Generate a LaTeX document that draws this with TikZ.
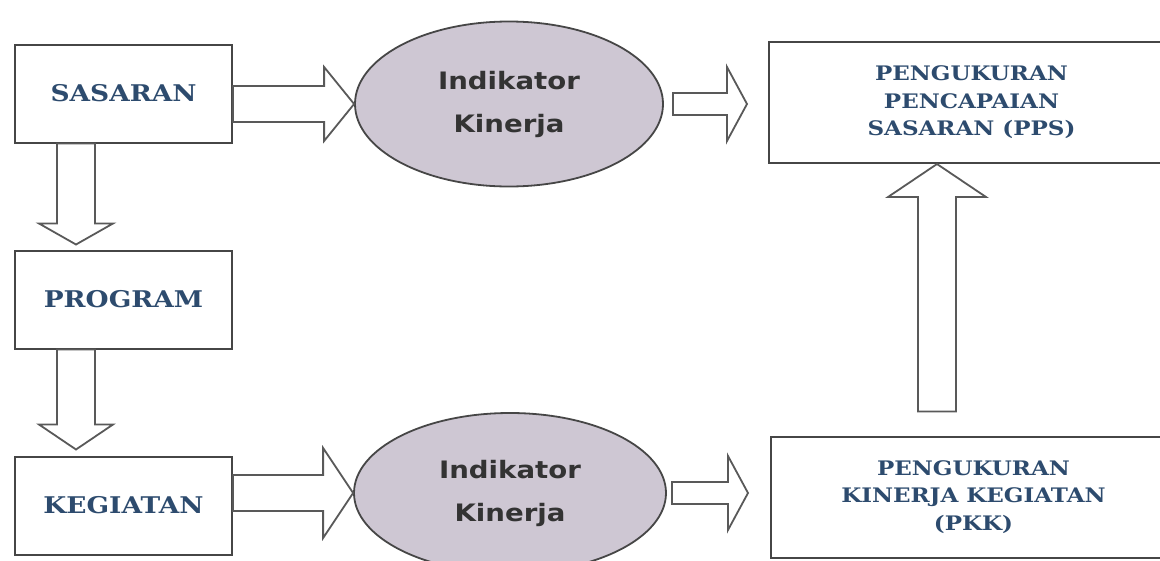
\documentclass[tikz,border=0pt]{standalone}
\usepackage{fontspec}
\usepackage{xcolor}
\usepackage{tikz}
\usetikzlibrary{calc,positioning,shapes.geometric}

\newfontfamily\boxfont[FakeStretch=1.15]{DejaVu Serif}
\newfontfamily\ovalfont[FakeStretch=1.15]{DejaVu Sans}
\definecolor{labelblue}{RGB}{45,75,110}
\definecolor{ovalfill}{RGB}{206,199,211}
\definecolor{edge}{RGB}{70,70,70}

\begin{document}
\begin{tikzpicture}[
  x=1pt, y=-1pt,
  box/.style={draw=edge, line width=2pt, align=center, inner sep=2pt, text=labelblue},
  big/.style={box, minimum width=217pt, minimum height=98pt,
    font=\boxfont\bfseries\fontsize{23}{28}\selectfont},
  wide/.style={box, minimum width=405pt, minimum height=121pt,
    font=\boxfont\bfseries\fontsize{20}{27.5}\selectfont},
  oval/.style={draw=edge, ellipse, fill=ovalfill, line width=1.8pt, inner sep=0pt,
    align=center, text=black!80, font=\ovalfont\bfseries\fontsize{24}{43}\selectfont},
  % hollow block arrow: shaft half width, head half width, head length
  fat/.style n args={3}{draw=edge!90, fill=white, line width=1.8pt, line join=miter,
    to path={($(\tikztotarget)!#3!(\tikztostart)$) coordinate (fb)
      ($(\tikztostart)!#1!90:(\tikztotarget)$) -- ($(fb)!#1!-90:(\tikztostart)$)
      -- ($(fb)!#2!-90:(\tikztostart)$) -- (\tikztotarget)
      -- ($(fb)!#2!90:(\tikztostart)$) -- ($(fb)!#1!90:(\tikztostart)$)
      -- ($(\tikztostart)!#1!-90:(\tikztotarget)$) -- cycle}}]
\useasboundingbox (0,0) rectangle (1160,560);

\node[big] (sas) at (123.5,93.5) {SASARAN};
\node[big, below=106pt of sas] (prog) {PROGRAM};
\node[big, below=106pt of prog] (keg) {KEGIATAN};

\node[oval, minimum width=308pt, minimum height=165pt] (ind1) at (509,104) {Indikator\\Kinerja};
\node[oval, minimum width=312pt, minimum height=160pt] (ind2) at (510,493) {Indikator\\Kinerja};

\node[wide] (pps) at (971.5,102.5) {PENGUKURAN\\PENCAPAIAN\\SASARAN (PPS)};
\node[wide] (pkk) at (973.5,497) {PENGUKURAN\\KINERJA KEGIATAN\\(PKK)};

% arrow ends
\coordinate (sasR) at (sas.east |- ind1);
\coordinate (kegR) at (keg.east |- ind2);
\coordinate (ind1R) at ($(ind1.east)+(9,0)$);
\coordinate (ppsL) at ($(pps.west |- ind1)+(-21,0)$);
\coordinate (ind2R) at ($(ind2.east)+(5,0)$);
\coordinate (pkkL) at ($(pkk.west |- ind2)+(-22,0)$);
\coordinate (sasD) at ($(sas.south west)+(62,0)$);
\coordinate (progU) at ($(prog.north west)+(62,-5)$);
\coordinate (progD) at ($(prog.south west)+(62,0)$);
\coordinate (kegU) at ($(keg.north west)+(62,-6)$);
\coordinate (pkkU) at ($(pkk.north west)+(167,-24)$);
\coordinate (ppsD) at (pkkU |- pps.south);

\draw[fat={18pt}{37pt}{30pt}] (sasR) to (ind1.west);
\draw[fat={18pt}{45pt}{30pt}] (kegR) to (ind2.west);
\draw[fat={11pt}{37pt}{20pt}] (ind1R) to (ppsL);
\draw[fat={11pt}{37pt}{20pt}] (ind2R) to (pkkL);
\draw[fat={19pt}{37pt}{21pt}] (sasD) to (progU);
\draw[fat={19pt}{37pt}{25pt}] (progD) to (kegU);
\draw[fat={19pt}{49pt}{33pt}] (pkkU) to (ppsD);
\end{tikzpicture}
\end{document}
